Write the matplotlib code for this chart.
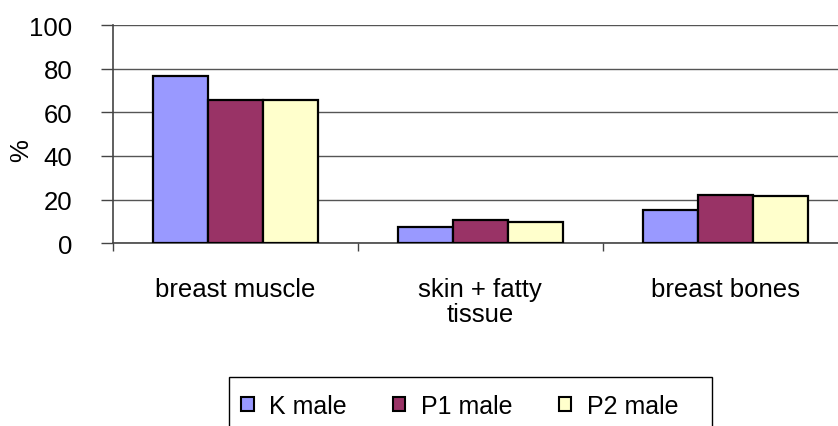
import numpy as np
import matplotlib.pyplot as plt
from matplotlib.patches import Patch, Rectangle

plt.rcParams['font.family'] = ['Liberation Sans', 'DejaVu Sans']

categories = ['breast muscle', 'skin + fatty\ntissue', 'breast bones']
series = ['K male', 'P1 male', 'P2 male']
k_male = [76.5, 7.5, 15.2]
p1_male = [65.5, 10.5, 22.0]
p2_male = [65.5, 9.6, 21.8]
colors = ['#9999FF', '#993366', '#FFFFCC']
yticks = [0, 20, 40, 60, 80, 100]

fig = plt.figure(figsize=(8.38, 4.27), dpi=100)
ax = fig.add_axes([112.5 / 838, (427 - 244.3) / 427, 735.5 / 838, 218.3 / 427])

x = np.arange(len(categories))
w = 0.2245
for i, (vals, c) in enumerate(zip([k_male, p1_male, p2_male], colors)):
    ax.bar(x + (i - 1) * w, vals, w, color=c, edgecolor='black', linewidth=1.6, zorder=3)

ax.set_xlim(-0.5, len(categories) - 0.5)
ax.set_ylim(0, 100)
ax.set_yticks(yticks)
ax.set_yticklabels([str(t) for t in yticks], fontsize=18.5)
ax.yaxis.grid(True, color='#555555', linewidth=1, zorder=0)
ax.tick_params(axis='y', length=9, width=1, color='#444444', pad=20)

ax.set_xticks(np.arange(len(categories) + 1) - 0.5)
ax.set_xticklabels([])
ax.set_xticks(x, minor=True)
ax.set_xticklabels(categories, minor=True, fontsize=18.5, linespacing=1.05, va='top')
ax.tick_params(axis='x', which='major', length=6, width=1, color='#444444')
ax.tick_params(axis='x', which='minor', length=0, pad=24)

for s in ['top', 'right']:
    ax.spines[s].set_visible(False)
ax.spines['left'].set_color('#444444')
ax.spines['bottom'].set_color('#444444')
ax.spines['left'].set_linewidth(1.2)
ax.spines['bottom'].set_linewidth(1.2)

fig.text(21 / 838, 1 - 151 / 427, '%', rotation=90, fontsize=18.5, ha='center', va='center')

# legend frame (cut off at the bottom like the reference)
fig.patches.append(Rectangle((229 / 838, -0.05), (712 - 229) / 838, 0.05 + (427 - 378) / 427,
                             transform=fig.transFigure, facecolor='none', edgecolor='black',
                             linewidth=1))
handles = [Patch(facecolor=c, edgecolor='black', linewidth=1.5) for c in colors]
leg = fig.legend(handles, series, loc='center left', bbox_to_anchor=(241 / 838, 1 - 407 / 427),
                 ncol=3, fontsize=18, frameon=False,
                 handlelength=0.5, handleheight=0.5, handletextpad=0.62, columnspacing=1.85,
                 borderpad=0, borderaxespad=0)

fig.savefig('out.png', dpi=100)
